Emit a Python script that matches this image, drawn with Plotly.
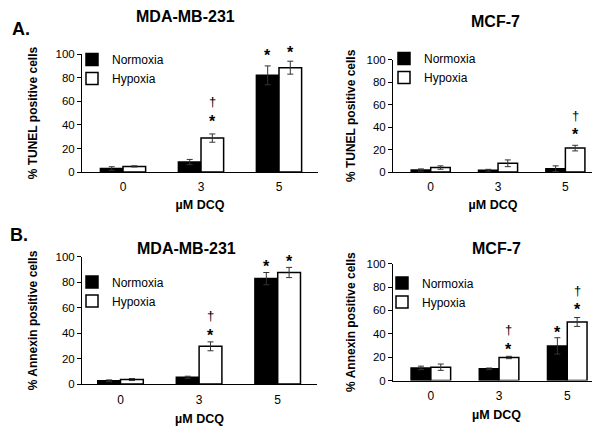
import plotly.graph_objects as go

# ---------------- data ----------------
doses = ["0", "3", "5"]
x_title = "µM DCQ"
series_names = ["Normoxia", "Hypoxia"]

tunel_mda_norm = [3.0, 8.5, 82.0]
tunel_mda_norm_err = [1.5, 2.2, 8.0]
tunel_mda_hyp = [4.8, 28.8, 88.5]
tunel_mda_hyp_err = [0.5, 3.5, 5.5]

tunel_mcf_norm = [1.8, 1.6, 3.0]
tunel_mcf_norm_err = [1.0, 0.8, 2.5]
tunel_mcf_hyp = [4.0, 7.8, 21.3]
tunel_mcf_hyp_err = [1.5, 3.0, 2.5]

annexin_mda_norm = [2.6, 5.4, 82.9]
annexin_mda_norm_err = [0.7, 0.8, 4.8]
annexin_mda_hyp = [3.6, 29.7, 87.7]
annexin_mda_hyp_err = [0.8, 3.5, 4.0]

annexin_mcf_norm = [10.8, 10.0, 29.6]
annexin_mcf_norm_err = [1.5, 0.7, 7.0]
annexin_mcf_hyp = [11.4, 19.7, 50.1]
annexin_mcf_hyp_err = [2.7, 1.0, 3.8]

# significance marks: (panel, dose index, series 0=Normoxia/1=Hypoxia, symbol, y-value)
marks = [
    (0, 1, 1, "†", 59.3), (0, 1, 1, "*", 45.9),
    (0, 2, 0, "*", 101.3), (0, 2, 1, "*", 104.4),
    (1, 2, 1, "†", 49.6), (1, 2, 1, "*", 36.6),
    (2, 1, 1, "†", 53.4), (2, 1, 1, "*", 40.7),
    (2, 2, 0, "*", 95.4), (2, 2, 1, "*", 98.7),
    (3, 1, 1, "†", 42.7), (3, 1, 1, "*", 29.7),
    (3, 2, 0, "*", 44.2), (3, 2, 1, "†", 76.1), (3, 2, 1, "*", 63.6),
]

FONT = "Liberation Sans, Arial, Helvetica, sans-serif"
PAGE_MARGIN = 8                 # default browser body margin
W, H = 600 - PAGE_MARGIN, 428 - PAGE_MARGIN
BARGAP = 0.42
STAR_SIZE, DAGGER_SIZE = 16, 13

panels = [
    dict(title="MDA-MB-231", ylabel="% TUNEL positive cells",
         norm=tunel_mda_norm, norm_err=tunel_mda_norm_err,
         hyp=tunel_mda_hyp, hyp_err=tunel_mda_hyp_err,
         px=(82, 318), py=(49.3, 170.7), xr=(-0.526, 2.5),
         title_pos=(185, 10.5), leg=(72, 40), ystand=15, xstand=6),
    dict(title="MCF-7", ylabel="% TUNEL positive cells",
         norm=tunel_mcf_norm, norm_err=tunel_mcf_norm_err,
         hyp=tunel_mcf_hyp, hyp_err=tunel_mcf_hyp_err,
         px=(393, 593), py=(55, 170.7), xr=(-0.56, 2.41),
         title_pos=(495, 15.5), leg=(384, 39), ystand=8, xstand=6),
    dict(title="MDA-MB-231", ylabel="% Annexin positive cells",
         norm=annexin_mda_norm, norm_err=annexin_mda_norm_err,
         hyp=annexin_mda_hyp, hyp_err=annexin_mda_hyp_err,
         px=(82, 317), py=(258, 389), xr=(-0.49, 2.5),
         title_pos=(186, 249), leg=(72, 269), ystand=15, xstand=8),
    dict(title="MCF-7", ylabel="% Annexin positive cells",
         norm=annexin_mcf_norm, norm_err=annexin_mcf_norm_err,
         hyp=annexin_mcf_hyp, hyp_err=annexin_mcf_hyp_err,
         px=(393, 600), py=(265, 385.3), xr=(-0.555, 2.48),
         title_pos=(496, 249.5), leg=(382, 270), ystand=8, xstand=8),
]

fig = go.Figure()
layout = dict(
    width=W, height=H, margin=dict(l=0, r=0, t=0, b=0),
    paper_bgcolor="white", plot_bgcolor="white",
    barmode="group", bargap=BARGAP, bargroupgap=0,
    font=dict(family=FONT, size=12, color="black"),
    annotations=[], showlegend=True,
)

def px2x(p):
    return (p - PAGE_MARGIN) / W

def px2y(p):
    return 1 - (p - PAGE_MARGIN) / H

for i, p in enumerate(panels):
    n = "" if i == 0 else str(i + 1)
    xa, ya = "x" + n, "y" + n
    leg = "legend" + n
    for s, (vals, errs, fill) in enumerate([(p["norm"], p["norm_err"], "black"),
                                            (p["hyp"], p["hyp_err"], "white")]):
        fig.add_trace(go.Bar(
            x=doses, y=vals, name=series_names[s],
            xaxis=xa, yaxis=ya, legend=leg, offsetgroup=str(s),
            marker=dict(color=fill, line=dict(color="black", width=1.5)),
            error_y=dict(type="data", array=errs, visible=True,
                         color="#333333", thickness=1, width=3),
            showlegend=True,
        ))
    layout["xaxis" + n] = dict(
        domain=[px2x(p["px"][0]), min(1, px2x(p["px"][1]))], anchor=ya,
        type="category", range=list(p["xr"]),
        showline=True, linecolor="black", linewidth=1, ticks="",
        showgrid=False, zeroline=False, ticklabelstandoff=4,
        tickfont=dict(size=12),
        title=dict(text="<b>" + x_title + "</b>", font=dict(size=12.5),
                   standoff=p["xstand"]),
    )
    layout["yaxis" + n] = dict(
        domain=[px2y(p["py"][1]), px2y(p["py"][0])], anchor=xa,
        range=[0, 100], dtick=20,
        showline=True, linecolor="black", linewidth=1,
        ticks="outside", ticklen=4, tickwidth=1, tickcolor="black",
        showgrid=False, zeroline=False, tickfont=dict(size=11.5),
        title=dict(text="<b>" + p["ylabel"] + "</b>", font=dict(size=12),
                   standoff=p["ystand"]),
    )
    layout[leg] = dict(
        x=px2x(p["leg"][0]), y=px2y(p["leg"][1]), xanchor="left", yanchor="top",
        bgcolor="rgba(0,0,0,0)", borderwidth=0, font=dict(size=12),
        tracegroupgap=0, itemwidth=30,
    )
    layout["annotations"].append(dict(
        text="<b>" + p["title"] + "</b>", xref="paper", yref="paper",
        x=px2x(p["title_pos"][0]), y=px2y(p["title_pos"][1]),
        xanchor="center", yanchor="middle", showarrow=False,
        font=dict(size=16),
    ))

off = (1 - BARGAP) / 4
for (pi, di, si, sym, yv) in marks:
    n = "" if pi == 0 else str(pi + 1)
    p = panels[pi]
    ppu = (p["py"][1] - p["py"][0]) / 100.0
    ya_val = min(yv, 99.0)
    if sym == "*":
        txt, fs, glyph_off = "<b>*</b>", STAR_SIZE, -0.21 * STAR_SIZE
    else:
        txt, fs, glyph_off = sym, DAGGER_SIZE, 0.06 * DAGGER_SIZE
    layout["annotations"].append(dict(
        text=txt, xref="x" + n, yref="y" + n,
        x=di + (-off if si == 0 else off), y=ya_val,
        xanchor="center", yanchor="middle", showarrow=False,
        font=dict(size=fs), yshift=(yv - ya_val) * ppu + glyph_off,
    ))

for lbl, (lx, ly) in [("A.", (10, 23)), ("B.", (8, 235.5))]:
    layout["annotations"].append(dict(
        text="<b>" + lbl + "</b>", xref="paper", yref="paper",
        x=px2x(lx), y=px2y(ly), xanchor="left", yanchor="middle",
        showarrow=False, font=dict(size=18),
    ))

fig.update_layout(**layout)
fig.write_html("out.html")
